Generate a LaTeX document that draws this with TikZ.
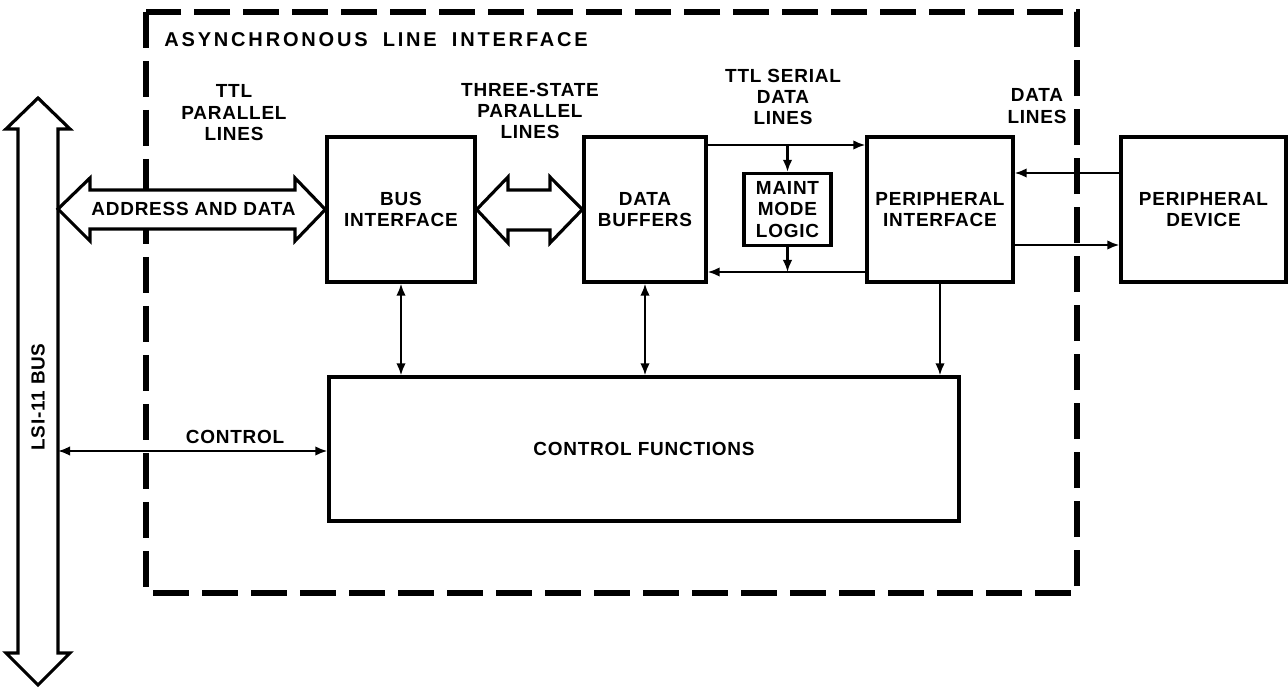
\documentclass[tikz,border=0pt]{standalone}
\usepackage{fontspec}
\setmainfont{Liberation Sans}[LetterSpace=4]
\newfontfamily\titlefont{Liberation Sans}[LetterSpace=14,WordSpace=1.8]
\usetikzlibrary{arrows.meta}
\begin{document}
\begin{tikzpicture}[
  lbl/.style={font=\bfseries\fontsize{10.8}{12.2}\selectfont, align=center, inner sep=0pt},
  blk/.style={draw, line width=1.9pt, align=center, inner sep=0pt, font=\bfseries\fontsize{10.8}{12.2}\selectfont},
  fatarrow/.style={draw, line width=1.8pt, line join=miter, fill=white},
  sig/.style={line width=1.2pt, -{Latex[length=2.4mm,width=1.9mm]}},
  sigboth/.style={line width=1.2pt, {Latex[length=2.4mm,width=1.9mm]}-{Latex[length=2.4mm,width=1.9mm]}}
]
\useasboundingbox (0,0) rectangle (25.76,13.74);
\fill[white] (0,0) rectangle (25.76,13.74);
\draw[line width=2.9pt, dash pattern=on 0.72cm off 0.26cm] (2.92,13.50) rectangle (21.54,1.88);
\node[font=\titlefont\bfseries\fontsize{11.4}{13}\selectfont, anchor=west, inner sep=0pt] (title) at (3.28,12.94) {ASYNCHRONOUS LINE INTERFACE};
\draw[fatarrow] (0.76,11.78) -- (1.40,11.16) -- (1.16,11.16) -- (1.16,0.68) -- (1.40,0.68) -- (0.76,0.04)
  -- (0.12,0.68) -- (0.36,0.68) -- (0.36,11.16) -- (0.12,11.16) -- cycle;
\node[lbl, rotate=90] (lsibus) at (0.76,5.80) {LSI-11 BUS};
\coordinate (busctl) at (1.16,4.72);
\node[blk, minimum width=2.96cm, minimum height=2.90cm] (bif) at (8.02,9.55) {BUS\\INTERFACE};
\node[blk, minimum width=2.44cm, minimum height=2.90cm] (buf) at (12.90,9.55) {DATA\\BUFFERS};
\node[blk, minimum width=1.74cm, minimum height=1.44cm] (mml) at (15.75,9.55) {MAINT\\MODE\\LOGIC};
\node[blk, minimum width=2.92cm, minimum height=2.90cm] (pif) at (18.80,9.55) {PERIPHERAL\\INTERFACE};
\node[blk, minimum width=3.30cm, minimum height=2.90cm] (dev) at (24.07,9.55) {PERIPHERAL\\DEVICE};
\node[blk, minimum width=12.60cm, minimum height=2.88cm] (ctl) at (12.88,4.76) {CONTROL FUNCTIONS};
\draw[fatarrow] (1.16,9.56) -- (1.80,10.18) -- (1.80,9.94) -- (5.90,9.94) -- (5.90,10.18) -- (bif.west)
  -- (5.90,8.92) -- (5.90,9.16) -- (1.80,9.16) -- (1.80,8.92) -- cycle;
\node[lbl] (addr) at (3.87,9.56) {ADDRESS AND DATA};
\draw[fatarrow] (bif.east) -- (10.16,10.20) -- (10.16,9.94) -- (11.00,9.94) -- (11.00,10.20) -- (buf.west)
  -- (11.00,8.88) -- (11.00,9.14) -- (10.16,9.14) -- (10.16,8.88) -- cycle;
\node[lbl] (ttlpar) at (4.68,11.48) {TTL\\PARALLEL\\LINES};
\node[lbl] (tripar) at (10.60,11.52) {THREE-STATE\\PARALLEL\\LINES};
\node[lbl] (ttlser) at (15.66,11.80) {TTL SERIAL\\DATA\\LINES};
\node[lbl] (datlin) at (20.74,11.62) {DATA\\LINES};
\coordinate (sertop) at (15.75,10.84);
\coordinate (serbot) at (15.75,8.30);
\draw[sig] (buf.east |- sertop) -- (pif.west |- sertop);
\draw[sig] (sertop) -- (mml.north);
\draw[sig] (mml.south) -- (serbot);
\draw[sig] (pif.west |- serbot) -- (buf.east |- serbot);
\draw[sig] (dev.west |- 0,10.28) -- (pif.east |- 0,10.28);
\draw[sig] (pif.east |- 0,8.84) -- (dev.west |- 0,8.84);
\draw[sigboth] (bif.south) -- (bif.south |- ctl.north);
\draw[sigboth] (buf.south) -- (buf.south |- ctl.north);
\draw[sig] (pif.south) -- (pif.south |- ctl.north);
\draw[sigboth] (busctl) -- (ctl.west |- busctl);
\node[lbl] (ctllbl) at (4.70,5.00) {CONTROL};
\end{tikzpicture}
\end{document}
